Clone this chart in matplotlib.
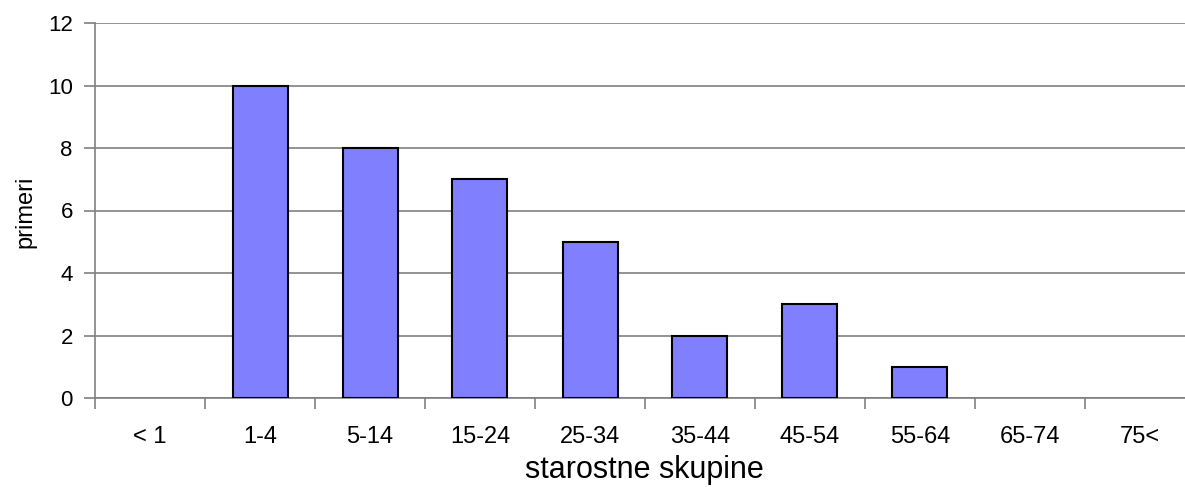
import matplotlib
matplotlib.use("Agg")
import matplotlib.pyplot as plt

categories = ["< 1", "1-4", "5-14", "15-24", "25-34", "35-44", "45-54", "55-64", "65-74", "75<"]
values = [0, 10, 8, 7, 5, 2, 3, 1, 0, 0]
yticks = [0, 2, 4, 6, 8, 10, 12]

plt.rcParams['font.family'] = ['Liberation Sans', 'DejaVu Sans']

W, H = 1185, 487
fig = plt.figure(figsize=(W / 100, H / 100), dpi=100)
left, right, top, bottom = 95, 1195, 23, 398
ax = fig.add_axes([left / W, 1 - bottom / H, (right - left) / W, (bottom - top) / H])

x = list(range(len(categories)))
edge_w = [1.5 if v > 0 else 0 for v in values]
ax.bar(x, values, width=0.5, color="#8080FF", edgecolor="black", linewidth=edge_w, zorder=3)

ax.set_xlim(-0.5, len(categories) - 0.5)
ax.set_ylim(0, 12)
ax.set_yticks(yticks)
ax.set_yticklabels([str(t) for t in yticks], fontsize=16)
ax.yaxis.grid(True, color="#808080", linewidth=1.2, zorder=0)
ax.set_axisbelow(True)

ax.set_xticks([i - 0.5 for i in range(len(categories))])
ax.set_xticklabels([])
ax.set_xticks(x, minor=True)
ax.set_xticklabels(categories, minor=True, fontsize=17)
ax.tick_params(axis='x', which='minor', length=0, pad=20)
ax.tick_params(axis='x', which='major', length=8, width=1.2, color="#808080")
ax.tick_params(axis='y', length=8, width=1.2, color="#808080", pad=8)

for s in ["top", "right"]:
    ax.spines[s].set_visible(False)
for s in ["left", "bottom"]:
    ax.spines[s].set_color("#808080")
    ax.spines[s].set_linewidth(1.2)

ax.set_ylabel("primeri", fontsize=17)
ax.set_xlabel("starostne skupine", fontsize=22)
ax.xaxis.set_label_coords((644 - left) / (right - left), -(455 - bottom) / (bottom - top))
ax.yaxis.set_label_coords(-(95 - 36) / (right - left), (398 - 212) / (bottom - top))

fig.savefig("out.png", dpi=100)
